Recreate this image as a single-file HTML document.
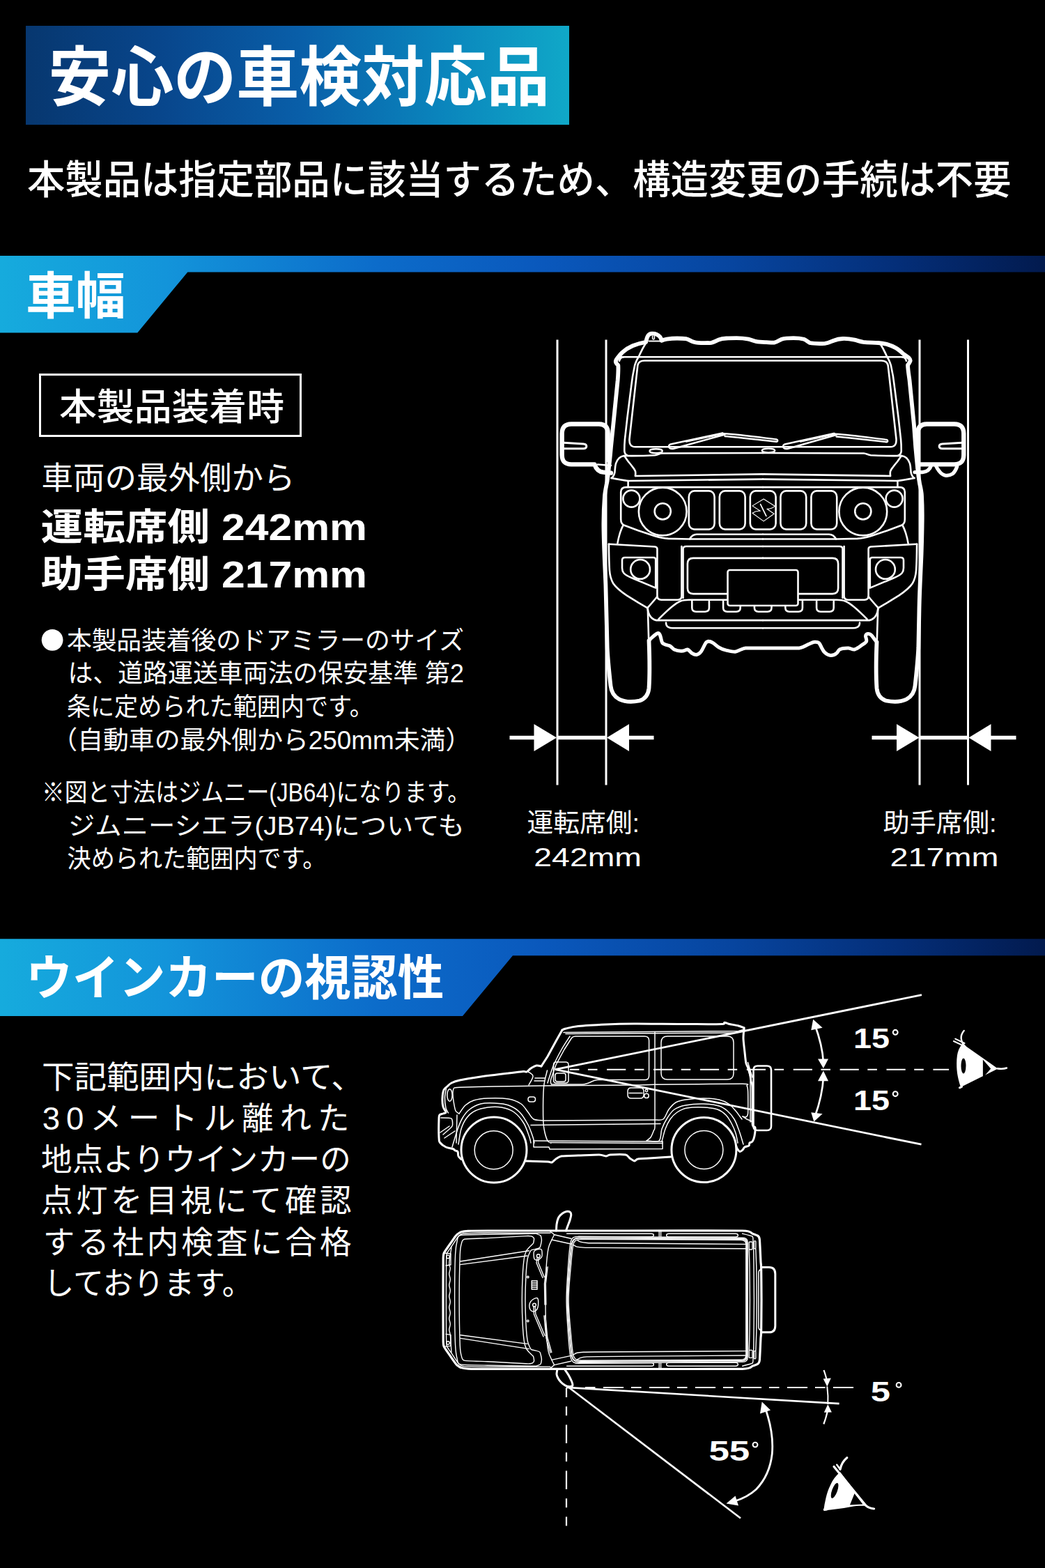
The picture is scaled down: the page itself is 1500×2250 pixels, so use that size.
<!DOCTYPE html>
<html lang="ja">
<head>
<meta charset="utf-8">
<title>安心の車検対応品</title>
<style>
html,body{margin:0;padding:0;background:#000;}
body{width:1500px;height:2250px;overflow:hidden;font-family:"Liberation Sans",sans-serif;}
#page{position:relative;width:1500px;height:2250px;background:#000;overflow:hidden;}
.banner{position:absolute;left:37px;top:37px;width:780px;height:142px;
  background:linear-gradient(90deg,#07376f 0%,#08468c 25%,#095ea8 50%,#0a84bc 76%,#10a8c8 100%);}
.sec{position:absolute;left:0;width:1500px;
  background:linear-gradient(90deg,#16abdd 0%,#1394da 16%,#0c6cca 36%,#0a58bc 52%,#07459f 70%,#042e78 86%,#021a4e 100%);}
.sec1{top:366.5px;height:111px;clip-path:polygon(0 0,1500px 0,1500px 24px,269.3px 24px,197.3px 111px,0 111px);}
.sec2{top:1347.3px;height:110.7px;clip-path:polygon(0 0,1500px 0,1500px 24px,736px 24px,664px 110.7px,0 110.7px);}
.box{position:absolute;left:56px;top:536px;width:371px;height:85px;border:3px solid #fff;}
svg.art{position:absolute;left:0;top:0;}
svg.art text{font-family:"Liberation Sans","Noto Sans CJK JP",sans-serif;fill:#fff;}
</style>
</head>
<body>
<div id="page">
<div class="banner"></div>
<div class="sec sec1"></div>
<div class="sec sec2"></div>
<div class="box"></div>
<svg class="art" width="1500" height="2250" viewBox="0 0 1500 2250">
<g fill="#fff">
<text x="69.5" y="144.09" font-size="93" font-weight="bold" textLength="719.5" lengthAdjust="spacingAndGlyphs">安心の車検対応品</text>
<text x="39" y="277.97" font-size="56.5" font-weight="500" textLength="1412.5" lengthAdjust="spacingAndGlyphs">本製品は指定部品に該当するため、構造変更の手続は不要</text>
<text x="37.3" y="449.76" font-size="72" font-weight="bold" textLength="142.7" lengthAdjust="spacingAndGlyphs">車幅</text>
<text x="85" y="602.64" font-size="53" font-weight="500" textLength="323" lengthAdjust="spacingAndGlyphs">本製品装着時</text>
<text x="59.6" y="702" font-size="45" textLength="364" lengthAdjust="spacingAndGlyphs">車両の最外側から</text>
<text x="58.5" y="775.4" font-size="53" font-weight="bold" textLength="468.5" lengthAdjust="spacingAndGlyphs">運転席側 242mm</text>
<text x="58.5" y="842.9" font-size="53" font-weight="bold" textLength="468.5" lengthAdjust="spacingAndGlyphs">助手席側 217mm</text>
<text x="95.9" y="932.32" font-size="36.5" textLength="570" lengthAdjust="spacingAndGlyphs">本製品装着後のドアミラーのサイズ</text>
<text x="97.4" y="979.32" font-size="36.5" textLength="568.6" lengthAdjust="spacingAndGlyphs">は、道路運送車両法の保安基準 第2</text>
<text x="95.9" y="1026.52" font-size="36.5" textLength="440" lengthAdjust="spacingAndGlyphs">条に定められた範囲内です。</text>
<text x="74.3" y="1074.72" font-size="36.5" textLength="602" lengthAdjust="spacingAndGlyphs">（自動車の最外側から250mm未満）</text>
<text x="60" y="1150.17" font-size="36.5" textLength="615" lengthAdjust="spacingAndGlyphs">※図と寸法はジムニー(JB64)になります。</text>
<text x="98" y="1197.52" font-size="36.5" textLength="568.9" lengthAdjust="spacingAndGlyphs">ジムニーシエラ(JB74)についても</text>
<text x="96.5" y="1244.52" font-size="36.5" textLength="372" lengthAdjust="spacingAndGlyphs">決められた範囲内です。</text>
<text x="756.6" y="1194.36" font-size="37" textLength="161.5" lengthAdjust="spacingAndGlyphs">運転席側:</text>
<text x="766.3" y="1243" font-size="37" textLength="154.7" lengthAdjust="spacingAndGlyphs">242mm</text>
<text x="1267.5" y="1194.06" font-size="37" textLength="163.1" lengthAdjust="spacingAndGlyphs">助手席側:</text>
<text x="1277.4" y="1243" font-size="37" textLength="156.1" lengthAdjust="spacingAndGlyphs">217mm</text>
<text x="37.3" y="1428.22" font-size="69" font-weight="bold" textLength="600" lengthAdjust="spacingAndGlyphs">ウインカーの視認性</text>
<text x="59.9" y="1561.99" font-size="45.5" textLength="462" lengthAdjust="spacingAndGlyphs">下記範囲内において、</text>
<text x="60.8" y="1621.14" font-size="45.5" textLength="440.6" lengthAdjust="spacing">30メートル離れた</text>
<text x="59.1" y="1680.29" font-size="45.5" textLength="444.6" lengthAdjust="spacingAndGlyphs">地点よりウインカーの</text>
<text x="59.1" y="1739.44" font-size="45.5" textLength="445.4" lengthAdjust="spacing">点灯を目視にて確認</text>
<text x="61.7" y="1798.59" font-size="45.5" textLength="442.8" lengthAdjust="spacing">する社内検査に合格</text>
<text x="62.5" y="1857.74" font-size="45.5" textLength="300" lengthAdjust="spacingAndGlyphs">しております。</text>
<text x="1225" y="1504.45" font-size="40" font-weight="bold" textLength="52" lengthAdjust="spacingAndGlyphs">15</text>
<text x="1225" y="1592.85" font-size="40" font-weight="bold" textLength="52" lengthAdjust="spacingAndGlyphs">15</text>
<text x="1249.7" y="2011.15" font-size="40" font-weight="bold" textLength="28.2" lengthAdjust="spacingAndGlyphs">5</text>
<text x="1017.4" y="2096.15" font-size="40" font-weight="bold" textLength="58.9" lengthAdjust="spacingAndGlyphs">55</text>
</g>
<circle cx="75.1" cy="918.3" r="15.4" fill="#fff"/><!-- ===== annotations ===== -->
<g fill="none" stroke="#fff" stroke-linecap="butt">
<path d="M797.0,1534.6L1323,1427.6M797.0,1534.6L1322.5,1642.2" stroke-width="2.8"/>
<path d="M1362.1,1534.7H818" stroke-width="2.1" stroke-dasharray="27.2 13.6 13.6 12.5" stroke-dashoffset="4.5"/>
<path d="M1169.5,1470Q1180.5,1500 1181.9,1524M1181.9,1546Q1180.5,1572 1169.8,1602" stroke-width="2.7"/>
</g>
<g fill="#fff" stroke="none">
<path d="M1167.2,1462.7L1164.3,1478.2L1180.6,1474.8Z"/>
<path d="M1181.9,1533L1174,1519.6H1189Z"/>
<path d="M1181.9,1536.6L1174,1551.2H1189Z"/>
<path d="M1168.3,1609.6L1164.3,1596.2L1180.6,1598.2Z"/>
<path d="M1432.4,1533.4L1381.4,1497.8C1377,1503 1374.6,1509 1373.9,1514.8C1373,1521.5 1373,1528.5 1373.5,1535.2C1374,1541.5 1375.4,1547.5 1376.9,1553.3C1377.5,1555.7 1378.3,1558 1379.1,1560.1Z"/>
</g>
<ellipse cx="1383" cy="1529.5" rx="3.5" ry="10.9" fill="#000"/>
<path d="M1410.9,1520.5L1422.2,1533.4L1410.9,1546.5Z" fill="#000"/>
<g fill="none" stroke="#fff" stroke-linecap="round">
<path d="M1432,1533.4Q1440,1534.4 1444.9,1532.5" stroke-width="2.6"/>
<path d="M1383.7,1479C1380.6,1482.6 1379.2,1487 1379.8,1491C1380.5,1495.4 1382.8,1499.4 1386,1502.3" stroke-width="2.4"/>
<path d="M1368.9,1494L1383,1500.7M1371.2,1490.600L1384.5,1497" stroke-width="2"/>
<path d="M1377.5,1560.8L1380.5,1559.3" stroke-width="3"/>
</g>
<g fill="none" stroke="#fff" stroke-linecap="butt">
<path d="M812.9,1990.9L1204.6,2014.1M816,1990.5L1063,2178.5" stroke-width="2.6"/>
<path d="M840,1991H1231" stroke-width="2.2" stroke-dasharray="14.5 11.5 29 11"/>
<path d="M813,1991.5V2189.5" stroke-width="2.2" stroke-dasharray="26.5 13.3 13 13.2" stroke-dashoffset="13"/>
<path d="M1182.5,1966Q1186,1976 1187,1982M1188.2,2022Q1187,2031 1182.3,2043.5" stroke-width="2.2"/>
<path d="M1187.3,1989.500Q1189,2003 1188.3,2015" stroke-width="2"/>
<path d="M1098.5,2021C1106,2042 1110.2,2064 1108.300,2086C1106,2107 1097.500,2124.500 1085.500,2137C1076,2146 1065,2151 1053.500,2154.500" stroke-width="2.8"/>
</g>
<g fill="#fff" stroke="none">
<path d="M1187.3,1989.7L1181.7,1978.6L1192.8,1977.600Z"/>
<path d="M1188.3,2015.2L1182.8,2026.8L1193.9,2026.600Z"/>
<path d="M1093.7,2011.6L1091,2028.500L1106,2023.5Z"/>
<path d="M1042.5,2157.5L1055.5,2146.500L1060,2160.5Z"/>
<path d="M1206,2112.3C1199.5,2117.5 1195,2124 1192,2131C1189,2137 1187,2143 1185.5,2149.6C1184,2155.500 1183,2161.500 1182.2,2167.4C1196,2166 1208,2164.8 1221,2162.2C1229,2160.8 1236,2160.5 1243.5,2161Z"/>
</g>
<ellipse cx="1198.1" cy="2138.9" rx="3.8" ry="11.6" fill="#000" transform="rotate(20 1198.1 2138.9)"/>
<path d="M1226.6,2143.1L1238.4,2158.5L1220,2159.4Z" fill="#000"/>
<g fill="none" stroke="#fff" stroke-linecap="round">
<path d="M1197,2104.5L1243,2160.5Q1248,2164.500 1254.6,2165" stroke-width="3.2"/>
<path d="M1201.2,2101.8L1206,2108.5" stroke-width="2.4"/>
<path d="M1215.8,2091.7C1210.500,2096 1207.2,2102 1206,2108.500" stroke-width="3.2"/>
<path d="M1183.5,2166.300L1187,2165.800" stroke-width="3.400"/>
</g>
<g fill="none" stroke="#fff" stroke-width="2.1">
<circle cx="1285.2" cy="1481.3" r="3.4"/>
<circle cx="1285.2" cy="1569.7" r="3.4"/>
<circle cx="1290.1" cy="1987.4" r="3.4"/>
<circle cx="1084.0" cy="2073.1" r="3.4"/>
</g>

<!-- ===== front view ===== -->
<g id="front" fill="none" stroke="#fff" stroke-linecap="round" stroke-linejoin="round">
 <!-- vertical guide lines + dimension arrows -->
 <g stroke-width="3" stroke-linecap="butt">
  <path d="M800,487.5V1126.5M870,487.5V1126.5M1320,487.5V1126.5M1389.5,487.5V1126.5"/>
 </g>
 <g stroke-width="5.5" stroke-linecap="butt">
  <path d="M731.5,1058.5H770M799,1058.5H871M900,1058.5H938.5"/>
  <path d="M1251.5,1058.5H1290M1319,1058.5H1390.5M1420,1058.5H1458.5"/>
 </g>
 <g fill="#fff" stroke="none">
  <path d="M799,1058.5L766.5,1039V1078ZM871,1058.5L903,1039V1078Z"/>
  <path d="M1319.5,1058.5L1287,1039V1078ZM1390.5,1058.5L1422.5,1039V1078Z"/>
 </g>

 <!-- thick outer silhouette -->
 <path stroke-width="5.8" d="M931.5,919.5C932.5,945 932.8,968 931.5,987.5C930.5,997 926,1003 918,1005.5C908,1007.5 897,1007.3 889,1003.5C881,999.5 877.5,993 876.5,984C874.5,966 872.5,948 871.7,930C870.7,900 870.2,870 869.4,839C868.3,812 866.6,782 866.4,754C866.3,738 867,724 868,711C868.8,704 870,698 871.5,691C873.5,676 875.5,660 877,641.3L880.3,609.3L883.5,577.3L886.7,545.3C887.3,537 887.8,530 887.3,524C884,521.5 883.3,518.5 884.6,516.2C887,512.5 890,509 893.1,505.9C897.5,501.8 902.5,498.6 908,496.3C914,493.8 920.5,492 927.2,490.9C927.8,487 928.7,483.8 930.4,481.3C931.8,479.5 933.6,478.7 935.7,478.6C938,478.5 940.3,478.8 942.1,479.6C944.8,480.8 946.4,482 947.5,483.5C948.6,485 949.2,486.8 949.6,488.8C952,487.8 954.4,487.1 957,486.7C962,485.9 967,485.5 972,485.5C976.5,485.5 981,485.6 984.8,486.2C988,486.8 990.5,488.6 993.3,489.9C997,491.6 1001,492.1 1006.1,492.1C1011,492.1 1016,492.3 1021,491.8C1025,491.2 1028,489 1031.7,487.5C1035,486.2 1038.5,485.7 1042.4,485.5C1047.4,485.2 1052.4,485.2 1057.3,485.2C1063,485.2 1069,485.7 1074.4,486.7C1078.2,487.5 1081.3,489.2 1085,489.9C1090,490.9 1095,491 1100,491.2C1104,491.4 1108,491.8 1111.3,491.6C1115.5,491 1118.3,488.2 1122,486.8C1127,485.2 1133,485.2 1139,485.2C1144,485.2 1149.5,485.6 1154,486.7C1157.3,487.8 1159.5,490.8 1162.5,492C1169.5,493.4 1177,493.2 1183.9,492.9C1188.6,492.4 1192.5,490.3 1196.7,488.7C1200.7,487.2 1205,486.2 1209.5,486C1215,485.8 1221,486.5 1226.5,487.7C1231,488.7 1235,490.3 1239.3,490.9C1246.3,491.7 1253.7,491.5 1260.7,492C1265,492.4 1269.5,493 1273.5,494.1C1278,495.4 1282.5,497.2 1286.3,499.5C1290.3,501.9 1293.7,505 1296.9,508C1299.6,510.2 1302.6,511.6 1304.4,513.3C1306.3,515.2 1307.2,516.6 1306.5,518.2C1305.8,520.3 1304,522.2 1303,524C1303.3,531 1304.5,538 1305.5,545.3L1308.7,577.3L1311.9,609.3L1314.2,641.3C1315.2,652 1316.2,663 1317.2,673.3C1318,681 1319,688 1320.2,694.7C1321.5,700 1322.7,705.5 1323,711.3C1323.8,725 1323.9,740 1323.6,754C1323.4,768 1323,782 1322.5,796.7L1320.6,839.3C1320,853 1319.5,868 1319.3,882C1319,898 1318.6,914 1318.3,930C1317.4,948 1315.5,966 1313.5,984C1312.500,993 1309,999.5 1301,1003.5C1293,1007.3 1282,1007.5 1272,1005.5C1264,1003 1259.5,997 1258.5,987.5C1257.2,968 1257.5,945 1258.5,921.3"/>
 <!-- under body wavy line -->
 <path stroke-width="5" d="M931.9,919.2C933,917.5 934.3,916.1 935.7,914.9C937.6,913.2 939.8,911.2 942.1,909.6C943.3,908.6 944.4,908.2 945.3,908.5C947.3,910 948,912.5 948.5,914.9C949.2,917.5 949.4,920.5 950.7,922.4C953.5,925.3 957.8,925.5 961.3,926.7C963.8,928 965.5,930.5 967.7,932C971.5,933.8 976.5,934.5 980.5,934.1C983,933.7 984.7,932 986.9,932C989.5,932.8 991,935.8 993.3,937.3C995.3,938.6 997.5,939.6 999.7,939.5C1002.2,939 1004.5,937.2 1006.1,935.2C1008.8,931.6 1010.2,927.2 1012.5,923.5C1013.6,921.8 1015,920.5 1016.8,920.3C1019.2,920.3 1021.3,921.2 1023.2,922.4C1026.3,924.2 1028.8,927 1031.7,928.8C1035,930.8 1038.6,932.3 1042.4,933.1C1046.5,934 1051,935.3 1055.2,935.2C1058.2,934.8 1060.9,933 1063.7,932C1065.8,931 1067.9,930 1070.1,929.9L1147.6,929.9C1152,929 1156.3,926.5 1160.4,924.5C1163.2,923.3 1166,921.8 1168.9,921.3C1171.3,921 1173.7,921 1175.3,922.4C1177.4,924.4 1178.3,927.5 1179.6,929.9C1180.8,932.2 1182,934.6 1183.9,936.3C1186.2,938.6 1189.3,940.4 1192.4,940.5C1195.6,940.5 1198.8,939.4 1200.9,937.3C1202.6,935.7 1203.4,933.2 1205.2,932C1208.8,929.8 1213.8,929.8 1218,929.9C1220.9,930.2 1223.6,932.4 1226.5,932C1230.5,931 1234,928 1237.2,925.6C1239.6,924 1242.5,922.5 1243.6,920.3C1244.5,918 1242.6,915 1242.5,912.8C1242.7,911 1244,909.8 1245.7,909.6C1247.3,909.4 1248.8,909.8 1250,910.7C1251.8,912 1253.1,914.1 1254.3,916C1255.6,917.8 1257,919.6 1258.5,921.3"/>

 <!-- symmetric thin details (left half; mirrored below) -->
 <g id="fh" stroke-width="2.6">
  <!-- windshield frame outer line -->
  <path d="M927.2,492C923.6,497.8 920.4,503.8 917.6,510.1C915,514.5 912.6,519.2 911.2,524C908.8,534.6 907,545.3 905.9,556L900.5,598.7L896.9,630.7C896.4,636.4 896.2,642 896.3,647.7C896.6,650.4 898,652.5 900.5,653.5"/>
  <!-- cowl line -->
  <path d="M896,654C910,654.2 926,654 940,653.2C944,652.8 946.5,650.8 950,650.5L1095,650"/>
  <!-- fender top + hood side -->
  <path d="M896,654C893,654.5 890.6,655.5 888.8,657.2C886.5,659.5 885,662.2 884,665.2C882.8,669.3 882.8,673.8 882.4,678C881.6,681.5 880,684.5 877.6,686"/>
  <path d="M896,654C898,656.6 899.8,659.4 901.6,662C903.8,664.6 906,667.2 908,670C909.6,672 911.3,674 912,676.4C912.5,678.6 912.2,681 912,683"/>
  <path d="M912,683L1095,680.4"/>
  <path d="M877.6,686C885.6,687.5 893.6,689 901.6,690L1095,687.6"/>
  <path d="M901.6,690V699"/>
  <!-- grille panel -->
  <path d="M1095,699.1H899C894,699.1 891.2,701.5 891.2,706V745C891.2,749.5 892.6,752.4 896,753.8L916,761.2L940,769.2C946.5,771 953,772.4 959.2,772.9L988,773.5H1095"/>
  <path d="M990,773.5C992.5,769 995.5,766.8 1000,766.8H1095"/>
  <circle cx="906.4" cy="715.6" r="12"/>
  <circle cx="951.2" cy="734" r="34.4"/>
  <circle cx="951.2" cy="733.8" r="11.6"/>
  <rect x="988.8" y="704.4" width="36.8" height="55.2" rx="8" ry="8.5"/>
  <rect x="1032.8" y="704.4" width="36.8" height="55.2" rx="8" ry="8.5"/>
  <!-- grille corner to bumper -->
  <path d="M894.4,754C892.3,757.8 890.8,762 889.6,766C888.2,770.5 887.2,775 886.4,779.6"/>
  <!-- bumper corner piece -->
  <path d="M873.9,780.7L940,784.5C942.2,784.7 943.4,785.8 943.4,788V855C943.4,858.5 945.5,860.7 949,860.7H973C976.5,860.7 978.4,858.5 978.4,855V784"/>
  <path d="M873.9,780.7C874,793 874.2,806 874.9,818C875.4,825 877,831.8 880.3,837.2C885,844.3 892.5,849.6 899.5,854.3L916.5,864.9L929.3,872.4"/>
  <path d="M943.4,856C939,861.6 934,867.2 929.3,872.4"/>
  <path d="M897,800H938C940.2,800 941.2,801 941.2,803.2V843.6L908,829.8C903,827.6 898.5,825.8 895.5,822.5C893.6,820.2 893,817.8 893,815V804C893,801.2 894.3,800 897,800Z"/>
  <circle cx="919.1" cy="816.9" r="13.9"/>
  <!-- centre bumper piece -->
  <path d="M1095,784H985C982,784 980.5,785.3 980.5,788V858"/>
  <path d="M1095,800.9H995C989.5,800.9 986.9,803.5 986.9,809V844C986.9,849.5 989.5,852.1 995,852.1H1044"/>
  <!-- lower lip -->
  <path d="M929.3,872.4C929.8,876 930.8,879.8 932.5,883C934.8,886.8 938,889.3 942.1,890.1H1095"/>
  <path d="M945.4,888.4C951.8,882 957.8,876 964,871C968,867.8 972,864.8 976.3,862.8C980.5,861 984.5,860.7 989,860.7H1095"/>
  <path d="M993.3,861V872C993.3,876 995.5,877.7 999,877.7H1012.2C1015.8,877.7 1017.9,876 1017.9,872V861"/>
  <path d="M1038.1,861V872C1038.1,876 1040.3,877.7 1043.8,877.7H1057C1060.6,877.7 1062.7,876 1062.7,872V861"/>
  <path d="M929.8,872.4L931.2,919"/>
  <path d="M956,893.5C956,896.5 957.2,898.8 959.2,899.8C961.2,900.8 963.4,901.2 965.6,901.2H1095"/>
 </g>
 <use href="#fh" transform="matrix(-1 0 0 1 2190 0)"/>
 <g stroke-width="2.6">
  <!-- gutter line + glass -->
  <path d="M891,512.3H1299"/>
  <path d="M889,517.8C890,514 892,512.5 895,512.3M1301,517.8C1300,514 1298,512.5 1295,512.3"/>
  <path d="M925,517.5H1265C1270.5,517.5 1273.8,519.6 1274.7,524.5L1286.4,629C1287.2,637 1284.8,641.3 1277.8,641.3H912.2C905.2,641.3 902.8,637 903.6,629L915.3,524.5C916.2,519.6 919.5,517.5 925,517.5Z"/>
  <!-- centre slot + under-plate slot -->
  <rect x="1076.8" y="704.4" width="36.8" height="55.2" rx="8" ry="8.5"/>
  <path d="M1082.9,861V872C1082.9,876 1085.1,877.7 1088.6,877.7H1101.8C1105.4,877.7 1107.5,876 1107.5,872V861"/>
  <!-- licence plate -->
  <rect x="1044.5" y="818" width="101" height="51" rx="3" fill="#000"/>
 </g>
 <!-- emblem -->
 <g stroke-width="1.1">
  <path d="M1112.2,726.3L1096.1,716L1080,725.9L1091.3,733.3Q1085,732.6 1080,736.2L1096.1,747.9L1111.1,737.3L1100.9,730.2Q1107.2,730.6 1112.2,726.3Z"/>
  <path d="M1091.6,723.6L1099.8,740.4" stroke-width="1.7"/>
 </g>
 <!-- wipers -->
 <g stroke-width="2.4">
  <path d="M962.5,637.5L1037,621.3L1040.5,623.5L968,643.5C964.5,644.5 961.3,643.8 960.3,641.8C959.6,639.8 960.4,638.2 962.5,637.5Z"/>
  <path d="M985,633.5L1038.5,622.3C1062,623.5 1090,627.5 1114.5,630.5C1116.8,631 1116.8,633.8 1114.5,633.7C1090,631.2 1064,628 1040.5,626"/>
  <path d="M1126.5,637.5L1197,621.8L1200.5,624L1132,643.5C1128.5,644.5 1125.3,643.8 1124.3,641.8C1123.6,639.8 1124.4,638.2 1126.5,637.5Z"/>
  <path d="M1149,633.5L1198.5,622.8C1222,624 1248,628 1272.5,631C1274.8,631.5 1274.8,634.3 1272.5,634.2C1248,631.7 1224,628.5 1200.5,626.5"/>
  <ellipse cx="941.6" cy="647.2" rx="9.2" ry="3"/>
  <ellipse cx="1103" cy="646.6" rx="9.2" ry="3"/>
 </g>
 <!-- antenna loop detail -->
 <path stroke-width="1.6" d="M936.6,482.2V485.6C936.6,487.4 939.4,487.4 939.4,485.6V482.2"/>
 <path stroke-width="2" d="M931.5,489.5H948.5"/>

 <!-- mirrors -->
 <g stroke-width="6.4">
  <path d="M872.7,660V622C872.7,613 868.5,608.7 860,608.5H820C811,608.7 806.9,613 806.7,622V653C806.9,662 811,666.2 820,666.4H853.500C855.500,672.500 858.500,676.800 866,677.600L877,678.600"/>
  <path d="M1317.3,660V622C1317.3,613 1321.5,608.7 1330,608.5H1370C1379,608.7 1383.100,613 1383.300,622V653C1383.100,662 1379,666.200 1370,666.400H1317.300"/>
 </g>
 <g stroke-width="5.200">
  <path d="M1313,677.600H1324C1330,677 1335,673.500 1336.800,667.500"/>
  <path d="M1342.800,667C1344.300,670.500 1346,673.500 1348.100,676C1350.500,679.200 1353.300,681.500 1356.700,682.100C1360.300,682.600 1364.200,681.900 1367.300,679.900C1370.300,677.500 1372.300,673.400 1373.700,669.500"/>
 </g>
 <g stroke-width="2.400">
  <path d="M858,666.500L877,668"/>
 </g>
 <g stroke-width="3">
  <path d="M809,635.200L837.500,637C843.400,637.600 843.200,643.800 837.500,643.700H809"/>
  <path d="M1381,635.200L1352.500,637C1346.600,637.600 1346.800,643.800 1352.500,643.700H1381"/>
 </g>
</g>

<!-- ===== side view ===== -->
<g id="side" fill="none" stroke="#fff" stroke-width="1.5" stroke-linecap="round" stroke-linejoin="round">
<path d="M1068.0,1475.0C1066.7,1474.5 1063.7,1473.0 1060.0,1472.0C1056.3,1471.0 1049.3,1470.0 1046.0,1469.2C1042.7,1468.4 1041.7,1467.1 1040.0,1467.2C1038.3,1467.3 1042.7,1469.2 1036.0,1469.6C1029.3,1470.0 1014.3,1469.5 1000.0,1469.5C985.7,1469.5 965.0,1469.4 950.0,1469.3C935.0,1469.2 923.3,1468.9 910.0,1469.0C896.7,1469.1 883.3,1469.4 870.0,1470.0C856.7,1470.6 839.7,1471.5 830.0,1472.5C820.3,1473.5 815.8,1475.1 812.0,1476.0C808.2,1476.9 807.8,1477.7 807.0,1478.0" stroke-width="3.0"/>
<path d="M807.0,1478.0L798.0,1494.0L786.0,1516.0L777.0,1530.0" stroke-width="3.0"/>
<path d="M777.0,1530.0C775.8,1529.8 772.5,1528.5 770.0,1529.0C767.5,1529.5 764.3,1531.5 762.0,1533.0C759.7,1534.5 757.8,1537.2 756.0,1538.0C754.2,1538.8 755.3,1537.2 751.0,1537.5C746.7,1537.8 740.2,1538.8 730.0,1540.0C719.8,1541.2 701.7,1543.3 690.0,1545.0C678.3,1546.7 667.0,1548.5 660.0,1550.0C653.0,1551.5 651.0,1552.5 648.0,1554.0C645.0,1555.5 643.8,1557.3 642.0,1559.0C640.2,1560.7 638.2,1561.2 637.0,1564.0C635.8,1566.8 635.2,1572.0 635.0,1576.0C634.8,1580.0 635.2,1584.7 636.0,1588.0C636.8,1591.3 640.0,1594.3 640.0,1596.0C640.0,1597.7 637.5,1597.3 636.0,1598.0C634.5,1598.7 632.0,1598.7 631.0,1600.0C630.0,1601.3 630.2,1600.7 630.0,1606.0C629.8,1611.3 629.7,1626.3 630.0,1632.0C630.3,1637.7 630.3,1637.7 632.0,1640.0C633.7,1642.3 637.0,1644.6 640.0,1646.0C643.0,1647.4 647.8,1647.7 650.0,1648.5C652.2,1649.3 652.3,1650.3 653.5,1651.0C654.7,1651.7 656.2,1651.2 657.0,1652.5C657.8,1653.8 657.2,1657.2 658.0,1659.0C658.8,1660.8 661.3,1662.8 662.0,1663.5" stroke-width="3.0"/>
<circle cx="709" cy="1650" r="47" stroke-width="3.0"/>
<circle cx="1010.4" cy="1650" r="46.5" stroke-width="3.0"/>
<circle cx="708.7" cy="1650.3" r="27.5" stroke-width="1.5"/>
<circle cx="1010.4" cy="1650" r="27.5" stroke-width="1.5"/>
<path d="M754.0,1666.0C757.7,1666.1 781.6,1666.8 786.0,1667.0C790.4,1667.2 790.6,1668.5 792.0,1668.0C793.4,1667.5 796.4,1664.0 798.0,1663.0C799.6,1662.0 802.3,1659.6 806.0,1659.0C809.7,1658.4 823.7,1658.2 830.0,1658.0C836.3,1657.8 855.3,1656.9 860.0,1657.0C864.7,1657.1 868.1,1659.0 870.0,1659.0C871.9,1659.0 872.7,1657.2 876.0,1657.0C879.3,1656.8 894.7,1656.4 898.0,1657.0C901.3,1657.6 902.5,1661.0 904.0,1662.0C905.5,1663.0 909.6,1665.9 911.0,1666.0C912.4,1666.1 912.6,1663.5 916.0,1663.0C919.4,1662.5 934.5,1661.8 940.0,1661.5C945.5,1661.2 960.3,1660.2 963.0,1660.0" stroke-width="3.0"/>
<path d="M1068.0,1475.0C1067.9,1477.0 1066.9,1485.3 1067.0,1490.0C1067.1,1494.7 1068.5,1505.2 1069.0,1510.0C1069.5,1514.8 1070.2,1522.8 1071.0,1526.0C1071.8,1529.2 1074.2,1531.6 1075.0,1534.0C1075.8,1536.4 1076.6,1541.6 1077.0,1544.0C1077.4,1546.4 1077.6,1549.9 1078.0,1552.0C1078.4,1554.1 1079.7,1552.3 1080.0,1560.0C1080.3,1567.7 1079.9,1602.5 1080.0,1610.0C1080.1,1617.5 1080.5,1614.9 1081.0,1616.0C1081.5,1617.1 1083.7,1616.1 1084.0,1618.0C1084.3,1619.9 1083.5,1627.3 1083.0,1630.0C1082.5,1632.7 1080.9,1636.7 1080.0,1638.0C1079.1,1639.3 1076.7,1639.2 1076.0,1640.0C1075.3,1640.8 1075.9,1643.2 1075.0,1644.0C1074.1,1644.8 1070.2,1645.2 1069.0,1646.0C1067.8,1646.8 1066.9,1649.1 1066.0,1650.0C1065.1,1650.9 1063.1,1652.8 1062.0,1652.5C1060.9,1652.2 1058.7,1649.1 1058.0,1648.0C1057.3,1646.9 1056.7,1644.5 1056.5,1644.0" stroke-width="3.0"/>
<path d="M1087.5,1529.5H1101.0Q1107.0,1529.5 1107.0,1535.5V1616.0Q1107.0,1622.0 1101.0,1622.0H1087.5Q1081.5,1622.0 1081.5,1616.0V1535.5Q1081.5,1529.5 1087.5,1529.5Z" stroke-width="2.6"/>
<path d="M809.0,1481.5L1060.0,1479.5L1069.0,1477.0"/>
<path d="M812.0,1483.5L1058.0,1482.0"/>
<path d="M818.0,1487.0C816.0,1490.2 810.0,1498.8 806.0,1506.0C802.0,1513.2 797.3,1522.0 794.0,1530.0C790.7,1538.0 787.3,1550.0 786.0,1554.0"/>
<path d="M826,1487H925Q931.6,1487 931.6,1493V1543.500Q931.6,1549.6 925.5,1549.6H858C850,1549.8 846,1555.8 836,1556H791.5Q789.5,1553 791,1548L798,1528L810,1506L820.5,1489.5Q822.5,1487 826,1487Z"/>
<path d="M958.0,1487.0H1044.0Q1053.0,1487.0 1053.0,1496.0V1540.0Q1053.0,1549.0 1044.0,1549.0H958.0Q949.0,1549.0 949.0,1540.0V1496.0Q949.0,1487.0 958.0,1487.0Z"/>
<path d="M798.5,1524.0H812.0Q816.0,1524.0 816.0,1528.0V1550.0Q816.0,1554.0 812.0,1554.0H798.5Q794.5,1554.0 794.5,1550.0V1528.0Q794.5,1524.0 798.5,1524.0Z"/>
<path d="M800.0,1540.0H809.0Q812.0,1540.0 812.0,1543.0V1549.0Q812.0,1552.0 809.0,1552.0H800.0Q797.0,1552.0 797.0,1549.0V1543.0Q797.0,1540.0 800.0,1540.0Z"/>
<path d="M659.0,1598.0C658.5,1597.6 654.8,1595.8 654.0,1594.0C653.2,1592.2 651.4,1582.6 651.0,1580.0C650.6,1577.4 649.9,1569.9 650.0,1568.0C650.1,1566.1 651.0,1561.8 652.0,1561.0C653.0,1560.2 654.2,1560.5 660.0,1560.3C665.8,1560.1 698.0,1559.2 710.0,1559.0C722.0,1558.8 760.0,1558.2 780.0,1558.0C800.0,1557.8 894.0,1557.2 910.0,1557.0C926.0,1556.8 924.4,1556.5 940.0,1556.3C955.6,1556.1 1052.8,1555.1 1066.0,1555.3C1079.2,1555.5 1071.2,1556.9 1072.0,1558.0C1072.8,1559.1 1073.4,1562.0 1073.6,1566.0C1073.8,1570.0 1073.9,1594.3 1073.6,1598.0C1073.3,1601.7 1071.3,1602.6 1070.5,1603.0C1069.7,1603.4 1066.5,1602.1 1066.0,1602.0"/>
<path d="M785.5,1536.0C784.7,1540.0 781.5,1549.3 780.5,1560.0C779.5,1570.7 779.5,1590.0 779.6,1600.0C779.7,1610.0 779.9,1613.8 781.0,1620.0C782.1,1626.2 784.3,1633.7 786.0,1637.0C787.7,1640.3 790.2,1639.5 791.0,1640.0"/>
<path d="M940.0,1481.5C940.0,1489.3 940.0,1546.5 940.0,1560.0C940.0,1573.5 940.1,1609.8 940.0,1616.0C939.9,1622.2 939.1,1620.4 938.5,1622.0C937.9,1623.6 935.0,1630.5 934.0,1632.0C933.0,1633.5 928.6,1636.5 928.0,1637.0"/>
<path d="M768.0,1547.0L782.0,1547.0"/>
<path d="M767.0,1551.0L781.0,1551.0"/>
<path d="M758.0,1538.0C759.2,1539.0 764.8,1540.8 765.0,1544.0C765.2,1547.2 760.0,1554.8 759.0,1557.0"/>
<path d="M761.2,1574.0H765.3Q768.5,1574.0 768.5,1577.2V1577.8Q768.5,1581.0 765.3,1581.0H761.2Q758.0,1581.0 758.0,1577.8V1577.2Q758.0,1574.0 761.2,1574.0Z"/>
<ellipse cx="645.5" cy="1571.5" rx="3.6" ry="8.8"/>
<path d="M640.5,1562.0C640.2,1564.2 638.6,1570.3 638.5,1575.0C638.4,1579.7 639.2,1586.3 640.0,1590.0C640.8,1593.7 642.9,1595.8 643.5,1597.0"/>
<path d="M659.0,1598.0C660.4,1596.2 664.9,1588.8 668.0,1586.0C671.1,1583.2 675.2,1580.5 680.0,1579.0C684.8,1577.5 692.5,1576.3 700.0,1576.0C707.5,1575.7 722.8,1575.8 730.0,1577.0C737.2,1578.2 743.8,1581.2 748.0,1584.0C752.2,1586.8 755.3,1592.7 758.0,1596.0C760.7,1599.3 762.7,1604.2 766.0,1606.0C769.3,1607.8 777.9,1607.7 780.0,1608.0L940,1607"/>
<path d="M649.0,1646.0C650.2,1642.1 654.8,1626.3 657.0,1620.0C659.2,1613.7 661.5,1608.2 664.0,1604.0C666.5,1599.8 670.1,1595.0 674.0,1592.0C677.9,1589.0 684.6,1585.3 690.0,1584.0C695.4,1582.7 704.0,1582.7 710.0,1583.0C716.0,1583.3 724.6,1584.0 730.0,1586.0C735.4,1588.0 741.8,1591.8 746.0,1596.0C750.2,1600.2 755.1,1608.6 758.0,1614.0C760.9,1619.4 763.6,1628.1 765.0,1632.0C766.4,1635.9 766.7,1638.8 767.0,1640.0"/>
<path d="M658.0,1642.0C658.6,1638.7 660.2,1625.7 662.0,1620.0C663.8,1614.3 667.0,1607.9 670.0,1604.0C673.0,1600.1 677.5,1596.2 682.0,1594.0C686.5,1591.8 694.3,1589.8 700.0,1589.0C705.7,1588.2 714.3,1588.0 720.0,1589.0C725.7,1590.0 733.2,1592.5 738.0,1596.0C742.8,1599.5 748.7,1606.6 752.0,1612.0C755.3,1617.4 758.5,1627.8 760.0,1632.0C761.5,1636.2 761.7,1638.8 762.0,1640.0"/>
<path d="M940.0,1607.0C941.8,1606.8 949.0,1608.2 952.0,1606.0C955.0,1603.8 957.3,1595.6 960.0,1592.0C962.7,1588.4 966.4,1584.1 970.0,1582.0C973.6,1579.9 978.0,1578.9 984.0,1578.0C990.0,1577.1 1002.8,1576.0 1010.0,1576.0C1017.2,1576.0 1026.6,1576.8 1032.0,1578.0C1037.4,1579.2 1042.4,1581.6 1046.0,1584.0C1049.6,1586.4 1053.6,1591.3 1056.0,1594.0C1058.4,1596.7 1060.7,1600.2 1062.0,1602.0C1063.3,1603.8 1064.5,1605.4 1065.0,1606.0"/>
<path d="M928.0,1637.0C930.7,1637.0 942.7,1639.5 946.0,1637.0C949.3,1634.5 948.2,1625.0 950.0,1620.0C951.8,1615.0 955.3,1608.2 958.0,1604.0C960.7,1599.8 964.1,1594.7 968.0,1592.0C971.9,1589.3 977.7,1587.2 984.0,1586.0C990.3,1584.8 1002.8,1583.8 1010.0,1584.0C1017.2,1584.2 1026.9,1585.5 1032.0,1587.0C1037.1,1588.5 1040.7,1591.2 1044.0,1594.0C1047.3,1596.8 1051.6,1602.1 1054.0,1606.0C1056.4,1609.9 1058.5,1616.1 1060.0,1620.0C1061.5,1623.9 1063.0,1628.7 1064.0,1632.0C1065.0,1635.3 1066.5,1640.5 1067.0,1642.0"/>
<path d="M950.0,1638.0C950.8,1635.3 953.2,1624.8 955.0,1620.0C956.8,1615.2 959.5,1609.6 962.0,1606.0C964.5,1602.4 968.4,1598.4 972.0,1596.0C975.6,1593.6 980.3,1591.0 986.0,1590.0C991.7,1589.0 1003.4,1588.7 1010.0,1589.0C1016.6,1589.3 1025.2,1590.3 1030.0,1592.0C1034.8,1593.7 1039.0,1597.0 1042.0,1600.0C1045.0,1603.0 1047.9,1608.1 1050.0,1612.0C1052.1,1615.9 1054.7,1621.8 1056.0,1626.0C1057.3,1630.2 1058.5,1637.9 1059.0,1640.0"/>
<path d="M762.0,1614.5L948.0,1612.5"/>
<path d="M766.0,1637.0L951.0,1638.0"/>
<path d="M790.0,1639.6L951.0,1640.4"/>
<path d="M766.0,1637.0L766.0,1646.0L788.0,1646.0L789.0,1649.0L951.0,1648.6L951.0,1638.0"/>
<path d="M906.0,1561.0H919.0Q924.0,1561.0 924.0,1566.0V1571.0Q924.0,1576.0 919.0,1576.0H906.0Q901.0,1576.0 901.0,1571.0V1566.0Q901.0,1561.0 906.0,1561.0Z"/>
<path d="M903.0,1568.5L922.0,1568.5"/>
<circle cx="928" cy="1565" r="1.7"/>
<circle cx="928" cy="1572.4" r="3.2"/>
<path d="M633.0,1604.0C634.5,1604.1 646.4,1603.8 648.0,1605.0C649.6,1606.2 650.2,1613.7 649.0,1616.0C647.8,1618.3 637.3,1626.8 636.0,1628.0"/>
<path d="M638.0,1633.0L653.0,1623.0"/>
<path d="M632.0,1625.0L645.0,1616.0"/>
<path d="M656.0,1600.0L655.0,1640.0"/>
<path d="M1071.0,1526.0L1078.0,1549.0"/>
<path d="M1073.5,1524.5L1080.0,1546.0"/>
<path d="M1077.0,1552.0L1077.0,1610.0"/>
<path d="M1066.0,1602.0C1067.0,1602.7 1070.2,1605.0 1072.0,1606.0C1073.8,1607.0 1075.7,1607.3 1077.0,1608.0C1078.3,1608.7 1079.5,1609.7 1080.0,1610.0"/>
</g>

<!-- ===== top view ===== -->
<g id="top" fill="none" stroke="#fff" stroke-width="1.4" stroke-linecap="round" stroke-linejoin="round">
<path d="M1093.0,1865.2C1093.0,1861.7 1092.7,1822.0 1092.6,1818.0C1092.5,1814.0 1092.2,1813.9 1092.0,1811.0C1091.8,1808.1 1090.7,1781.8 1090.4,1779.0C1090.1,1776.2 1088.8,1774.0 1088.0,1773.4C1087.2,1772.8 1081.6,1770.7 1080.0,1770.2C1078.4,1769.7 1078.8,1766.3 1065.6,1766.0C1052.4,1765.7 918.6,1766.0 900.0,1766.0C881.4,1766.0 826.7,1766.0 812.0,1766.0C797.3,1766.0 710.3,1766.0 700.0,1766.0C689.7,1766.0 674.8,1766.2 672.0,1766.3C669.2,1766.4 663.2,1767.4 662.0,1767.8C660.8,1768.2 656.7,1771.0 656.0,1771.5C655.3,1772.0 653.8,1773.9 653.0,1775.0C652.2,1776.1 646.2,1784.8 645.0,1786.5C643.8,1788.2 637.9,1796.6 637.3,1798.0C636.7,1799.4 636.3,1801.1 636.2,1806.0C636.1,1810.9 636.0,1856.5 636.0,1865.2C636.0,1873.9 636.1,1919.5 636.2,1924.4C636.3,1929.3 636.7,1931.0 637.3,1932.4C637.9,1933.8 643.8,1942.2 645.0,1943.9C646.2,1945.6 652.2,1954.3 653.0,1955.4C653.8,1956.5 655.3,1958.4 656.0,1958.9C656.7,1959.4 660.8,1962.2 662.0,1962.6C663.2,1963.0 669.2,1964.0 672.0,1964.1C674.8,1964.2 689.7,1964.4 700.0,1964.4C710.3,1964.4 797.3,1964.4 812.0,1964.4C826.7,1964.4 881.4,1964.4 900.0,1964.4C918.6,1964.4 1052.4,1964.7 1065.6,1964.4C1078.8,1964.1 1078.4,1960.7 1080.0,1960.2C1081.6,1959.7 1087.2,1957.6 1088.0,1957.0C1088.8,1956.4 1090.1,1954.2 1090.4,1951.4C1090.7,1948.6 1091.8,1922.3 1092.0,1919.4C1092.2,1916.5 1092.5,1916.4 1092.6,1912.4C1092.7,1908.4 1093.0,1868.7 1093.0,1865.2C1093.0,1861.7 1093.0,1868.7 1093.0,1865.2Z" stroke-width="3.2"/>
<path d="M1092.6,1818.6H1104Q1112.8,1818.6 1112.8,1828V1902.4Q1112.8,1911.8 1104,1911.8H1092.6" stroke-width="3.0"/>
<path d="M1093,1821.5Q1088.8,1822 1088.8,1827V1903.4Q1088.8,1908.4 1093,1908.9" stroke-width="1.5"/>
<path d="M798.5,1766.0C798.6,1764.8 798.6,1759.5 799.0,1757.0C799.4,1754.5 800.7,1749.1 801.8,1747.0C802.9,1744.9 806.0,1742.1 807.5,1741.0C809.0,1739.9 811.6,1738.6 813.0,1738.4C814.4,1738.2 817.4,1738.6 818.3,1739.2C819.2,1739.8 819.8,1741.4 819.8,1743.0C819.8,1744.6 818.6,1748.9 818.0,1751.0C817.4,1753.1 815.7,1757.0 815.0,1759.0C814.3,1761.0 812.8,1765.1 812.5,1766.0" stroke-width="3.0"/>
<path d="M800.0,1964.4C799.9,1965.4 798.9,1970.3 799.0,1972.0C799.1,1973.7 800.3,1976.1 801.0,1977.5C801.7,1978.9 803.4,1981.3 804.5,1982.5C805.6,1983.7 807.7,1985.6 809.0,1986.5C810.3,1987.4 812.6,1988.9 814.0,1989.3C815.4,1989.7 818.4,1989.8 819.5,1989.6C820.6,1989.4 821.9,1988.5 822.0,1987.5C822.1,1986.5 821.3,1983.9 820.5,1982.0C819.7,1980.1 817.3,1975.3 816.0,1973.0C814.7,1970.7 811.2,1965.9 810.5,1964.8" stroke-width="3.0"/>
<path d="M790.0,1769.3C783.4,1769.3 709.2,1768.9 700.0,1769.0C690.8,1769.1 668.1,1769.6 665.0,1770.0C661.9,1770.4 659.2,1772.7 658.0,1774.0C656.8,1775.3 649.7,1786.2 648.5,1788.0C647.3,1789.8 642.1,1796.9 641.5,1798.5C640.9,1800.1 640.7,1805.1 640.6,1810.0C640.5,1814.9 640.4,1857.1 640.4,1865.2C640.4,1873.3 640.5,1915.5 640.6,1920.4C640.7,1925.3 640.9,1930.3 641.5,1931.9C642.1,1933.5 647.3,1940.6 648.5,1942.4C649.7,1944.2 656.8,1955.1 658.0,1956.4C659.2,1957.7 661.9,1960.0 665.0,1960.4C668.1,1960.8 690.8,1961.3 700.0,1961.4C709.2,1961.5 783.4,1961.1 790.0,1961.1"/>
<path d="M661.0,1772.5C665.4,1771.7 689.5,1771.4 700.0,1771.2C710.5,1771.0 759.0,1770.3 766.0,1770.2C773.0,1770.1 769.5,1770.3 770.5,1770.6C771.5,1770.9 775.3,1772.1 776.0,1773.0C776.7,1773.9 777.5,1778.3 777.4,1780.0C777.3,1781.7 775.9,1788.7 775.0,1790.0C774.1,1791.3 769.3,1792.2 768.0,1792.6C766.7,1793.0 763.1,1793.1 762.0,1794.4C760.9,1795.7 758.0,1802.4 757.3,1806.0C756.6,1809.6 755.3,1824.1 755.0,1830.0C754.7,1835.9 754.0,1858.2 754.0,1865.2C754.0,1872.2 754.7,1894.5 755.0,1900.4C755.3,1906.3 756.6,1920.8 757.3,1924.4C758.0,1928.0 760.9,1934.7 762.0,1936.0C763.1,1937.3 766.7,1937.4 768.0,1937.8C769.3,1938.2 774.1,1939.1 775.0,1940.4C775.9,1941.7 777.3,1948.7 777.4,1950.4C777.5,1952.1 776.7,1956.5 776.0,1957.4C775.3,1958.3 771.5,1959.5 770.5,1959.8C769.5,1960.1 773.0,1960.3 766.0,1960.2C759.0,1960.1 710.5,1959.4 700.0,1959.2C689.5,1959.0 665.4,1958.7 661.0,1957.9C656.6,1957.1 657.2,1954.2 656.5,1951.4C655.8,1948.7 654.0,1939.0 653.6,1930.4C653.2,1921.8 652.6,1878.2 652.6,1865.2C652.6,1852.2 653.2,1808.6 653.6,1800.0C654.0,1791.4 655.8,1781.8 656.5,1779.0C657.2,1776.2 656.6,1773.3 661.0,1772.5Z"/>
<path d="M667.0,1778.0C670.8,1777.3 691.2,1777.0 700.0,1776.6C708.8,1776.2 748.7,1773.9 755.0,1773.6C761.3,1773.3 761.9,1773.7 763.0,1774.0C764.1,1774.3 766.2,1776.0 766.5,1777.0C766.8,1778.0 766.1,1782.8 765.5,1784.0C764.9,1785.2 761.0,1788.4 760.0,1789.5C759.0,1790.6 756.3,1793.3 755.5,1795.0C754.7,1796.7 752.8,1802.5 752.3,1806.0C751.8,1809.5 750.5,1824.1 750.2,1830.0C749.9,1835.9 749.3,1858.2 749.3,1865.2C749.3,1872.2 749.9,1894.5 750.2,1900.4C750.5,1906.3 751.8,1920.9 752.3,1924.4C752.8,1927.9 754.7,1933.8 755.5,1935.4C756.3,1937.1 759.0,1939.8 760.0,1940.9C761.0,1942.0 764.9,1945.2 765.5,1946.4C766.1,1947.7 766.8,1952.4 766.5,1953.4C766.2,1954.4 764.1,1956.1 763.0,1956.4C761.9,1956.7 761.3,1957.1 755.0,1956.8C748.7,1956.5 708.8,1954.2 700.0,1953.8C691.2,1953.4 670.8,1953.1 667.0,1952.4C663.2,1951.7 663.2,1948.6 662.5,1946.4C661.8,1944.2 660.6,1938.5 660.3,1930.4C660.0,1922.3 659.2,1878.2 659.2,1865.2C659.2,1852.2 660.0,1808.1 660.3,1800.0C660.6,1791.9 661.8,1786.2 662.5,1784.0C663.2,1781.8 663.2,1778.7 667.0,1778.0Z"/>
<path d="M660.8,1810.0L759.4,1794.8"/>
<path d="M660.8,1814.6L757.0,1802.0"/>
<path d="M660.8,1920.4L759.4,1935.6"/>
<path d="M660.8,1915.8L757.0,1928.4"/>
<path d="M648.0,1790.0C647.5,1793.7 645.1,1807.0 644.8,1812.0C644.5,1817.0 646.3,1817.3 646.3,1820.0C646.3,1822.7 644.8,1825.3 644.8,1828.0C644.8,1830.7 646.3,1833.3 646.3,1836.0C646.3,1838.7 644.8,1841.3 644.8,1844.0C644.8,1846.7 646.3,1849.3 646.3,1852.0C646.3,1854.7 644.8,1857.3 644.8,1860.0C644.8,1862.7 646.3,1865.3 646.3,1868.0C646.3,1870.7 644.8,1873.3 644.8,1876.0C644.8,1878.7 646.3,1881.3 646.3,1884.0C646.3,1886.7 644.8,1889.3 644.8,1892.0C644.8,1894.7 646.3,1897.3 646.3,1900.0C646.3,1902.7 644.8,1905.3 644.8,1908.0C644.8,1910.7 645.8,1910.6 646.3,1916.0C646.8,1921.4 647.7,1936.3 648.0,1940.4"/>
<path d="M637.0,1798.0L647.0,1799.0L647.0,1815.0L640.0,1816.0"/>
<path d="M637.0,1932.4L647.0,1931.4L647.0,1915.4L640.0,1914.4"/>
<circle cx="643" cy="1803.4" r="2.3"/>
<circle cx="643" cy="1927.0" r="2.3"/>
<path d="M795.6,1771.8C795.1,1772.8 793.1,1776.4 792.0,1779.0C790.9,1781.6 788.3,1785.5 787.2,1791.0C786.1,1796.5 784.6,1810.1 784.0,1820.0C783.4,1829.9 783.0,1853.1 783.0,1865.2C783.0,1877.3 783.4,1900.5 784.0,1910.4C784.6,1920.3 786.1,1933.9 787.2,1939.4C788.3,1944.9 790.9,1948.8 792.0,1951.4C793.1,1954.0 795.1,1957.6 795.6,1958.6"/>
<path d="M795.6,1771.8C795.2,1771.4 793.2,1769.6 792.5,1769.0C791.8,1768.4 790.3,1767.7 790.0,1767.5"/>
<path d="M795.6,1958.6C795.2,1959.0 793.2,1960.8 792.5,1961.4C791.8,1962.0 790.3,1962.7 790.0,1962.9"/>
<path d="M795.6,1771.8L819.6,1777.2"/>
<path d="M792.0,1779.0L819.6,1785.0"/>
<path d="M795.6,1958.6L819.6,1953.2"/>
<path d="M792.0,1951.4L819.6,1945.4"/>
<path d="M830.6,1956.2C829.5,1956.0 824.8,1955.8 823.1,1954.6C821.4,1953.4 820.2,1953.1 819.2,1948.2C818.2,1943.3 817.1,1934.7 816.2,1922.2C815.3,1909.8 813.1,1882.3 813.1,1865.2C813.1,1848.1 815.3,1820.7 816.2,1808.2C817.1,1795.8 818.2,1787.1 819.2,1782.2C820.2,1777.3 821.4,1777.0 823.1,1775.8C824.8,1774.6 829.5,1774.4 830.6,1774.2L1066.2,1776.2Q1073.2,1776.2 1073.2,1783.2V1947.2Q1073.2,1954.2 1066.2,1954.2Z" stroke-width="1.4"/>
<path d="M832.4,1954.0C831.3,1953.8 826.6,1953.6 824.9,1952.4C823.2,1951.2 822.0,1950.9 821.0,1946.0C820.0,1941.1 819.0,1932.1 818.0,1920.0C817.0,1907.9 814.6,1881.6 814.6,1865.2C814.6,1848.8 817.0,1822.5 818.0,1810.4C819.0,1798.3 820.0,1789.3 821.0,1784.4C822.0,1779.5 823.2,1779.2 824.9,1778.0C826.6,1776.8 831.3,1776.6 832.4,1776.4L1065.0,1777.8Q1072.0,1777.8 1072.0,1784.8V1945.6Q1072.0,1952.6 1065.0,1952.6Z" stroke-width="1.9"/>
<path d="M834.2,1952.2C833.1,1952.0 828.4,1951.8 826.7,1950.6C825.0,1949.4 823.8,1949.1 822.8,1944.2C821.8,1939.3 820.8,1930.0 819.8,1918.2C818.8,1906.4 816.1,1881.1 816.1,1865.2C816.1,1849.3 818.8,1824.0 819.8,1812.2C820.8,1800.4 821.8,1791.1 822.8,1786.2C823.8,1781.3 825.0,1781.0 826.7,1779.8C828.4,1778.6 833.1,1778.4 834.2,1778.2L1063.8,1779.2Q1070.8,1779.2 1070.8,1786.2V1944.2Q1070.8,1951.2 1063.8,1951.2Z" stroke-width="1.4"/>
<path d="M828.5,1779.5C829.2,1779.9 831.4,1781.5 833.5,1782.1C835.6,1782.7 838.8,1783.2 842.5,1783.5C846.2,1783.8 856.1,1783.8 858.5,1783.8L1069.6,1785.4"/>
<path d="M828.5,1950.9C829.2,1950.5 831.4,1948.9 833.5,1948.3C835.6,1947.7 838.8,1947.2 842.5,1946.9C846.2,1946.6 856.1,1946.6 858.5,1946.6L1069.6,1945.0"/>
<path d="M823.3,1786.5C824.0,1786.9 826.2,1788.6 828.3,1789.1C830.4,1789.6 833.5,1789.9 837.3,1790.1C841.0,1790.3 850.9,1790.4 853.3,1790.4L1070.4,1791.8"/>
<path d="M823.3,1943.9C824.0,1943.5 826.2,1941.8 828.3,1941.3C830.4,1940.8 833.5,1940.5 837.3,1940.3C841.0,1940.1 850.9,1940.0 853.3,1940.0L1070.4,1938.6"/>
<path d="M813.6,1770.2H935Q938.4,1770.2 938.4,1772.5Q938.4,1774.6 935,1774.6H826"/>
<path d="M1056,1770.2Q1059.4,1770.2 1059.4,1772.6Q1059.4,1775.0 1056,1775.0H960Q956.6,1775.0 956.6,1772.6Q956.6,1770.2 960,1770.2Z"/>
<path d="M946.2,1767.0L946.2,1774.6"/>
<path d="M948.6,1767.0L948.6,1774.6"/>
<path d="M813.6,1960.2H935Q938.4,1960.2 938.4,1957.9Q938.4,1955.8 935,1955.8H826"/>
<path d="M1056,1960.2Q1059.4,1960.2 1059.4,1957.8Q1059.4,1955.4 1056,1955.4H960Q956.6,1955.4 956.6,1957.8Q956.6,1960.2 960,1960.2Z"/>
<path d="M946.2,1963.4L946.2,1955.8"/>
<path d="M948.6,1963.4L948.6,1955.8"/>
<path d="M1065.6,1770.2C1066.8,1770.5 1078.7,1773.3 1080.0,1774.2C1081.3,1775.1 1080.8,1778.8 1081.0,1781.0C1081.2,1783.2 1081.7,1793.0 1081.8,1800.0C1081.9,1807.0 1082.4,1854.3 1082.4,1865.2C1082.4,1876.1 1081.9,1923.4 1081.8,1930.4C1081.7,1937.4 1081.2,1947.2 1081.0,1949.4C1080.8,1951.6 1081.3,1955.3 1080.0,1956.2C1078.7,1957.1 1066.8,1959.9 1065.6,1960.2"/>
<path d="M1075.2,1793.0C1075.3,1795.7 1075.9,1812.8 1076.0,1820.0C1076.1,1827.2 1076.4,1856.2 1076.4,1865.2C1076.4,1874.2 1076.1,1903.2 1076.0,1910.4C1075.9,1917.6 1075.3,1934.7 1075.2,1937.4"/>
<path d="M1084.8,1792.0C1084.9,1794.8 1085.7,1812.7 1085.8,1820.0C1085.9,1827.3 1086.2,1856.2 1086.2,1865.2C1086.2,1874.2 1085.9,1903.1 1085.8,1910.4C1085.7,1917.7 1084.9,1935.6 1084.8,1938.4"/>
<path d="M1076.2,1782.0H1079.0Q1080.0,1782.0 1080.0,1783.0V1792.0Q1080.0,1793.0 1079.0,1793.0H1076.2Q1075.2,1793.0 1075.2,1792.0V1783.0Q1075.2,1782.0 1076.2,1782.0Z"/>
<path d="M1083.4,1780.6H1083.8Q1084.8,1780.6 1084.8,1781.6V1790.8Q1084.8,1791.8 1083.8,1791.8H1083.4Q1082.4,1791.8 1082.4,1790.8V1781.6Q1082.4,1780.6 1083.4,1780.6Z"/>
<path d="M1076.2,1937.4H1079.0Q1080.0,1937.4 1080.0,1938.4V1947.4Q1080.0,1948.4 1079.0,1948.4H1076.2Q1075.2,1948.4 1075.2,1947.4V1938.4Q1075.2,1937.4 1076.2,1937.4Z"/>
<path d="M1083.4,1938.6H1083.8Q1084.8,1938.6 1084.8,1939.6V1948.8Q1084.8,1949.8 1083.8,1949.8H1083.4Q1082.4,1949.8 1082.4,1948.8V1939.6Q1082.4,1938.6 1083.4,1938.6Z"/>
<path d="M766.5,1796.0C767.3,1794.1 771.5,1792.8 773.0,1792.5C774.5,1792.2 776.9,1792.1 777.5,1793.5C778.1,1794.9 778.5,1801.1 777.8,1803.0C777.1,1804.9 773.9,1807.5 772.5,1808.0C771.1,1808.5 767.8,1808.1 767.0,1806.5C766.2,1804.9 765.7,1797.9 766.5,1796.0Z"/>
<circle cx="772.8" cy="1802.2" r="2.4"/>
<path d="M771.3,1804.0L770.0,1812.0L779.0,1833.5"/>
<path d="M773.6,1804.5L772.5,1811.5L781.2,1832.5"/>
<path d="M784.5,1818.0L781.5,1842.0L782.0,1872.0"/>
<path d="M786.2,1818.0L783.3,1842.0L783.8,1872.0"/>
<path d="M760.5,1870.0C761.3,1867.5 764.1,1865.1 766.0,1864.0C767.9,1862.9 771.0,1861.5 772.0,1863.5C773.0,1865.5 772.9,1872.9 772.0,1876.0C771.1,1879.1 768.3,1881.5 766.5,1882.0C764.7,1882.5 762.0,1881.0 761.0,1879.0C760.0,1877.0 759.7,1872.5 760.5,1870.0Z"/>
<circle cx="767" cy="1872.6" r="2.4"/>
<path d="M765.8,1874.5L766.5,1886.0L780.0,1918.0"/>
<path d="M768.2,1875.0L768.8,1885.5L782.0,1916.5"/>
<path d="M781.0,1888.0L784.0,1920.0L790.0,1941.0"/>
<path d="M782.8,1887.5L785.8,1919.5L791.8,1940.5"/>
<path d="M763.3,1838.0L771.0,1838.0"/>
<path d="M763.3,1841.0L771.0,1841.0"/>
<path d="M763.3,1844.0L771.0,1844.0"/>
<path d="M763.3,1847.0L771.0,1847.0"/>
<path d="M763.3,1850.0L771.0,1850.0"/>
<path d="M763.3,1838.0L763.3,1850.0"/>
<path d="M771.0,1838.0L771.0,1850.0"/>
<circle cx="757.7" cy="1832.6" r="1.3"/>
<circle cx="757.7" cy="1895.4" r="1.3"/>
</g>

</svg>
</div>
</body>
</html>
